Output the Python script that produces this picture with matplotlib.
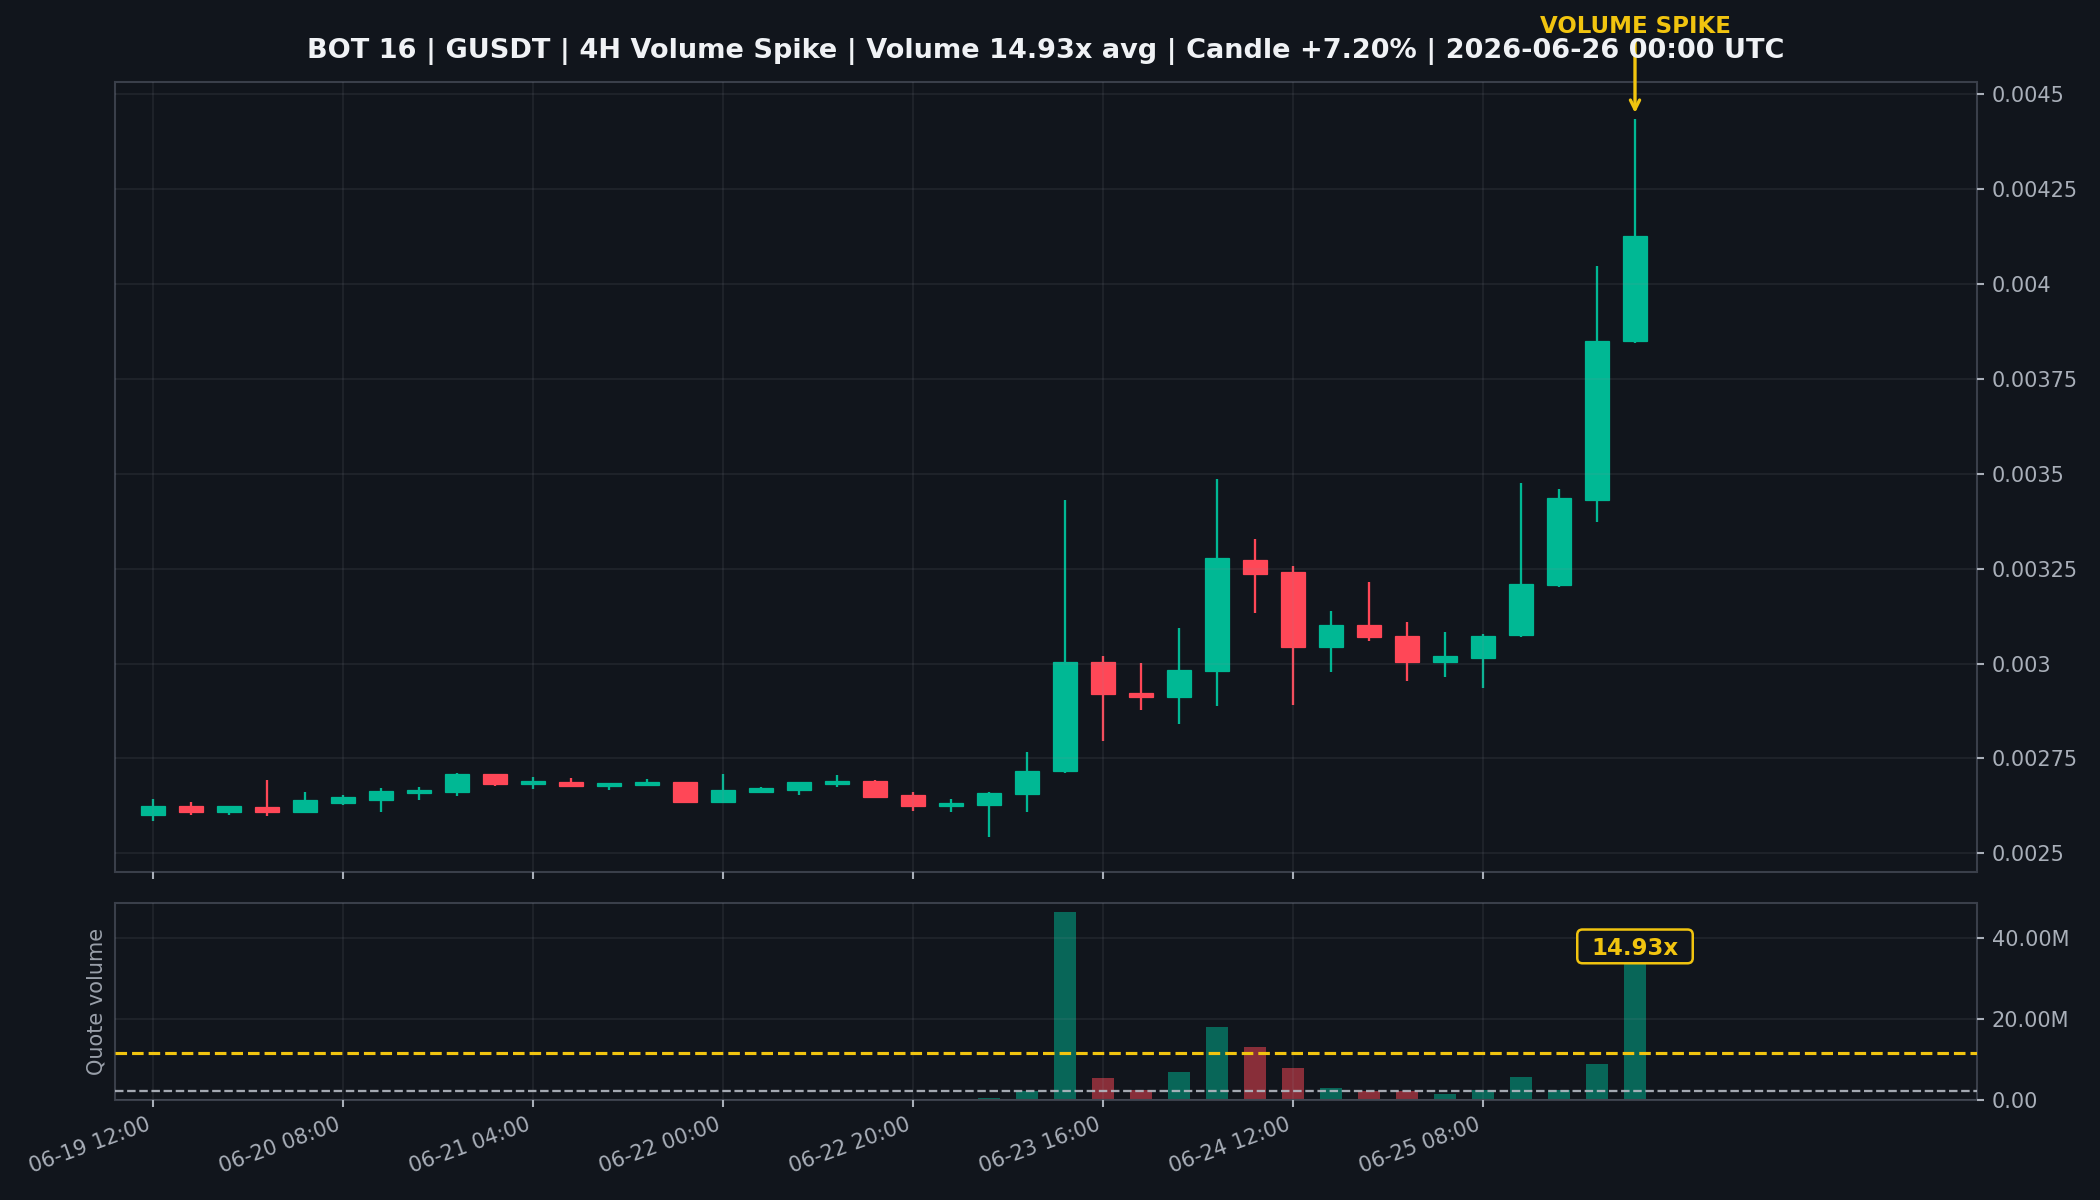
import numpy as np
import pandas as pd
import matplotlib
matplotlib.use("Agg")
import matplotlib.pyplot as plt
from matplotlib.ticker import FuncFormatter, MultipleLocator
from matplotlib.patches import FancyBboxPatch
from matplotlib.transforms import ScaledTranslation

# ---------------- data ----------------
times = pd.date_range("2026-06-19 12:00", periods=40, freq="4h")

opens = [0.002602, 0.002625, 0.002610, 0.002622, 0.002610, 0.002633, 0.002641, 0.002660,
         0.002662, 0.002709, 0.002683, 0.002689, 0.002678, 0.002681, 0.002687, 0.002636,
         0.002662, 0.002668, 0.002683, 0.002692, 0.002653, 0.002625, 0.002627, 0.002656,
         0.002716, 0.003004, 0.002922, 0.002911, 0.002980, 0.003274, 0.003242, 0.003045,
         0.003102, 0.003073, 0.003004, 0.003014, 0.003074, 0.003206, 0.003432, 0.003850]
highs = [0.002643, 0.002635, 0.002626, 0.002693, 0.002661, 0.002653, 0.002672, 0.002675,
         0.002712, 0.002710, 0.002702, 0.002698, 0.002686, 0.002696, 0.002689, 0.002709,
         0.002676, 0.002688, 0.002706, 0.002693, 0.002661, 0.002642, 0.002661, 0.002767,
         0.003431, 0.003020, 0.003001, 0.003094, 0.003485, 0.003329, 0.003257, 0.003139,
         0.003215, 0.003110, 0.003083, 0.003078, 0.003475, 0.003459, 0.004047, 0.004434]
lows = [0.002586, 0.002602, 0.002602, 0.002599, 0.002607, 0.002628, 0.002610, 0.002641,
        0.002652, 0.002678, 0.002670, 0.002675, 0.002668, 0.002678, 0.002633, 0.002635,
        0.002661, 0.002654, 0.002675, 0.002646, 0.002612, 0.002610, 0.002544, 0.002610,
        0.002711, 0.002795, 0.002877, 0.002841, 0.002887, 0.003132, 0.002891, 0.002977,
        0.003059, 0.002953, 0.002964, 0.002935, 0.003069, 0.003202, 0.003373, 0.003845]
closes = [0.002625, 0.002610, 0.002625, 0.002610, 0.002640, 0.002648, 0.002664, 0.002667,
          0.002709, 0.002683, 0.002690, 0.002678, 0.002685, 0.002688, 0.002636, 0.002666,
          0.002671, 0.002687, 0.002690, 0.002649, 0.002625, 0.002632, 0.002658, 0.002717,
          0.003004, 0.002920, 0.002913, 0.002983, 0.003277, 0.003235, 0.003045, 0.003102,
          0.003069, 0.003004, 0.003020, 0.003073, 0.003210, 0.003437, 0.003850, 0.004127]
# quote volume (millions)
volumes_m = [0.12, 0.10, 0.08, 0.35, 0.15, 0.10, 0.12, 0.08, 0.20, 0.10, 0.08, 0.06, 0.05,
             0.06, 0.15, 0.12, 0.05, 0.08, 0.06, 0.10, 0.12, 0.15, 0.60, 2.10, 46.3, 5.5,
             2.5, 7.0, 18.1, 13.2, 8.0, 3.0, 2.1, 2.1, 1.6, 2.5, 5.8, 2.5, 9.0, 34.5]
avg_volume_m = 2.31
threshold_mult = 5
spike_ratio_label = "14.93x"
title_text = "BOT 16 | GUSDT | 4H Volume Spike | Volume 14.93x avg | Candle +7.20% | 2026-06-26 00:00 UTC"
price_ticks = [0.0025, 0.00275, 0.003, 0.00325, 0.0035, 0.00375, 0.004, 0.00425, 0.0045]

# ---------------- style ----------------
BG = "#11151c"
GREEN = "#00b894"
RED = "#ff4757"
GOLD = "#f1c40f"
SPINE = "#3a3f4a"
GRID = "#8a8f99"
TICK = "#a9afb9"

opens = np.array(opens); closes = np.array(closes)
highs = np.array(highs); lows = np.array(lows)
vols = np.array(volumes_m) * 1e6
x = np.arange(len(opens))
up = closes >= opens
colors = np.where(up, GREEN, RED)

fig = plt.figure(figsize=(14, 8), dpi=150, facecolor=BG)
ax = fig.add_axes([0.05476, 0.27333, 0.88667, 0.65833], facecolor=BG)
axv = fig.add_axes([0.05476, 0.08333, 0.88667, 0.16417], facecolor=BG, sharex=ax)

for a in (ax, axv):
    for s in a.spines.values():
        s.set_color(SPINE)
        s.set_linewidth(1.0)
    a.set_axisbelow(False)
    a.grid(True, color=GRID, linewidth=0.8, alpha=0.13)
    a.yaxis.tick_right()
    a.tick_params(colors=TICK, labelsize=10, length=3.5, width=1)

# candles
ax.vlines(x, lows, highs, colors=colors, linewidth=1.1, zorder=1)
body_bottom = np.minimum(opens, closes)
body_h = np.maximum(np.abs(closes - opens), 0.000006)
ax.bar(x, body_h, bottom=body_bottom, width=0.62, color=colors, edgecolor=colors,
       linewidth=0.6, zorder=1.5)

ax.set_xlim(-1, 48)
ax.set_ylim(0.002451, 0.004532)
ax.set_yticks(price_ticks)
ax.yaxis.set_major_formatter(FuncFormatter(lambda v, p: f"{v:g}"))
ax.tick_params(axis="x", labelbottom=False)
ax.set_title(title_text, color="#f0f2f5", fontsize=13, fontweight="bold", pad=11.5)

spike_i = len(x) - 1
ax.annotate("VOLUME SPIKE", xy=(x[spike_i], highs[spike_i]), xytext=(0, 39),
            textcoords="offset points", ha="center", va="bottom", color=GOLD,
            fontsize=11, fontweight="bold", annotation_clip=False,
            arrowprops=dict(arrowstyle="->", color=GOLD, lw=1.6, shrinkA=0, shrinkB=3))

# volume
axv.bar(x, vols, width=0.6, color=colors, alpha=0.5, zorder=1)
avg_volume = avg_volume_m * 1e6
axv.axhline(avg_volume * threshold_mult, color=GOLD, linestyle="--", linewidth=1.5, zorder=3)
axv.axhline(avg_volume, color="#b5bac3", linestyle="--", linewidth=1.1, alpha=0.9, zorder=3)
axv.set_ylim(0, vols.max() * 1.05)
axv.yaxis.set_major_locator(MultipleLocator(20e6))
axv.yaxis.set_major_formatter(FuncFormatter(
    lambda v, p: f"{v/1e6:.2f}M" if v >= 1e6 else f"{v:.2f}"))
axv.set_ylabel("Quote volume", color="#9aa0aa", fontsize=10)

# ratio label with a box sized in inches around the bar top
anchor = fig.dpi_scale_trans + ScaledTranslation(x[spike_i], vols[spike_i], axv.transData)
box_w, box_h, box_dy = 0.77, 0.225, 0.092
axv.add_patch(FancyBboxPatch((-box_w / 2, box_dy - box_h / 2), box_w, box_h,
                             boxstyle="round,pad=0,rounding_size=0.035",
                             transform=anchor, facecolor=BG, edgecolor=GOLD,
                             linewidth=1.2, zorder=5, clip_on=False))
axv.annotate(spike_ratio_label, xy=(x[spike_i], vols[spike_i]), xytext=(0, box_dy * 72),
             textcoords="offset points", ha="center", va="center_baseline", color=GOLD,
             fontsize=11, fontweight="bold", zorder=6)

tick_idx = x[::5][:8]
axv.set_xticks(tick_idx)
axv.set_xticklabels([times[i].strftime("%m-%d %H:%M") for i in tick_idx],
                    rotation=20, ha="right")

fig.savefig("out.png", dpi=150, facecolor=BG)
